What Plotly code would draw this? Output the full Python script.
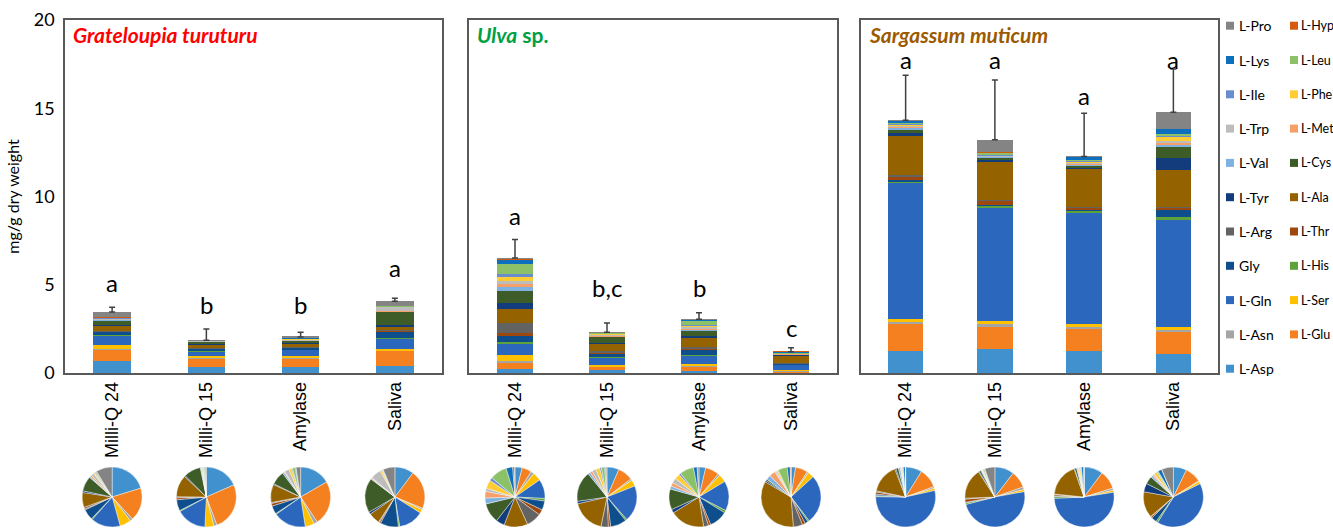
import plotly.graph_objects as go
import numpy as np

W, H = 1333, 528

categories = ["Milli-Q 24", "Milli-Q 15", "Amylase", "Saliva"]
species = ["Grateloupia turuturu", "Ulva sp.", "Sargassum muticum"]

# mg/g dry weight; 12 bars = [G. turuturu x4, Ulva x4, S. muticum x4]
asp = [0.70, 0.34, 0.34, 0.42, 0.25, 0.15, 0.11, 0.03, 1.27, 1.38, 1.25, 1.06]
glu = [0.62, 0.48, 0.49, 0.85, 0.34, 0.19, 0.23, 0.08, 1.51, 1.21, 1.23, 1.30]
asn = [0.05, 0.03, 0.04, 0.03, 0.11, 0.02, 0.03, 0.01, 0.13, 0.19, 0.15, 0.06]
ser = [0.21, 0.09, 0.10, 0.08, 0.30, 0.08, 0.13, 0.04, 0.17, 0.15, 0.13, 0.19]
gln = [0.55, 0.30, 0.36, 0.55, 0.68, 0.45, 0.49, 0.32, 7.69, 6.46, 6.35, 6.08]
his = [0.02, 0.01, 0.01, 0.03, 0.09, 0.02, 0.04, 0.01, 0.08, 0.11, 0.11, 0.15]
gly = [0.20, 0.11, 0.09, 0.40, 0.32, 0.20, 0.30, 0.02, 0.11, 0.04, 0.04, 0.43]
thr = [0.02, 0.02, 0.03, 0.03, 0.19, 0.03, 0.04, 0.02, 0.17, 0.23, 0.09, 0.11]
arg = [0.03, 0.01, 0.01, 0.02, 0.53, 0.09, 0.08, 0.06, 0.08, 0.06, 0.04, 0.04]
ala = [0.28, 0.22, 0.20, 0.25, 0.83, 0.42, 0.57, 0.42, 2.27, 2.17, 2.20, 2.08]
tyr = [0.03, 0.01, 0.01, 0.05, 0.30, 0.03, 0.06, 0.01, 0.09, 0.06, 0.04, 0.68]
cys = [0.28, 0.17, 0.15, 0.76, 0.70, 0.38, 0.34, 0.01, 0.19, 0.13, 0.13, 0.62]
val = [0.02, 0.01, 0.02, 0.02, 0.21, 0.03, 0.05, 0.03, 0.15, 0.06, 0.06, 0.15]
met = [0.03, 0.005, 0.01, 0.02, 0.23, 0.03, 0.06, 0.04, 0.04, 0.03, 0.06, 0.11]
trp = [0.05, 0.01, 0.05, 0.23, 0.11, 0.05, 0.08, 0.01, 0.06, 0.04, 0.04, 0.09]
phe = [0.02, 0.005, 0.03, 0.04, 0.30, 0.05, 0.09, 0.01, 0.06, 0.03, 0.09, 0.23]
ile = [0.01, 0.005, 0.01, 0.01, 0.11, 0.02, 0.03, 0.005, 0.04, 0.03, 0.04, 0.06]
leu = [0.02, 0.01, 0.03, 0.01, 0.60, 0.04, 0.23, 0.06, 0.04, 0.09, 0.04, 0.09]
lys = [0.01, 0.005, 0.01, 0.01, 0.23, 0.01, 0.06, 0.02, 0.15, 0.02, 0.15, 0.30]
hyp = [0.01, 0.0, 0.0, 0.0, 0.06, 0.01, 0.01, 0.005, 0.01, 0.01, 0.01, 0.02]
pro = [0.30, 0.01, 0.05, 0.26, 0.02, 0.01, 0.02, 0.0, 0.01, 0.72, 0.01, 0.93]

# standard deviation (upper error bar) per bar
sd = [0.26, 0.64, 0.27, 0.17, 1.05, 0.52, 0.36, 0.22, 2.55, 3.38, 2.45, 2.45]

# significance letters and their heights
letters = ["a", "b", "b", "a", "a", "b,c", "b", "c", "a", "a", "a", "a"]
letter_y = [5.1, 3.9, 3.9, 5.95, 8.9, 4.85, 4.85, 2.55, 17.75, 17.75, 15.75, 17.75]

amino_names = ["L-Asp", "L-Glu", "L-Asn", "L-Ser", "L-Gln", "L-His", "Gly", "L-Thr",
               "L-Arg", "L-Ala", "L-Tyr", "L-Cys", "L-Val", "L-Met", "L-Trp", "L-Phe",
               "L-Ile", "L-Leu", "L-Lys", "L-Hyp", "L-Pro"]
amino_values = [asp, glu, asn, ser, gln, his, gly, thr, arg, ala, tyr, cys, val, met,
                trp, phe, ile, leu, lys, hyp, pro]
amino_colors = ["#4191CF", "#F5801F", "#A5A5A5", "#FFC000", "#2A67BD", "#5FA23A",
                "#0E4E8C", "#9E480E", "#636363", "#946300", "#123C7C", "#3D5C27",
                "#7FB2E0", "#F5A06A", "#BDBDBD", "#FFCD33", "#698ED0", "#8CC168",
                "#0E6FBF", "#D55B0E", "#848484"]

title_colors = ["#FF0000", "#00A044", "#9C5A00"]
title_texts = ["<b><i>Grateloupia turuturu</i></b>", "<b><i>Ulva</i> sp.</b>",
               "<b><i>Sargassum muticum</i></b>"]

# layout geometry (pixels)
x_domains_px = [(65, 442), (469, 837), (861, 1218)]
y_domain_px = (20, 373)
legend_col_square_px = [1226, 1290]
legend_col_text_px = [1238, 1300]
legend_font_px = [14, 12.5]
legend_top_px, legend_step_px = 25.7, 34.3

vals = np.array(amino_values)  # 21 x 12
totals = vals.sum(axis=0)

fig = go.Figure()
axis_ids = ["", "2", "3"]

for p in range(3):
    xa = "x" + axis_ids[p]
    ya = "y" + axis_ids[p]
    sl = slice(4 * p, 4 * p + 4)
    for k, name in enumerate(amino_names):
        fig.add_trace(go.Bar(
            x=categories, y=vals[k, sl], name=name,
            marker=dict(color=amino_colors[k], line=dict(width=0)),
            xaxis=xa, yaxis=ya, legendgroup=name, showlegend=False,
            hoverinfo="name+y",
        ))
    fig.add_trace(go.Scatter(
        x=categories, y=totals[sl], mode="markers",
        marker=dict(size=1, color="rgba(0,0,0,0)"),
        error_y=dict(type="data", array=sd[sl], arrayminus=[0] * 4, symmetric=False,
                     color="#404040", thickness=1.5, width=3),
        xaxis=xa, yaxis=ya, showlegend=False, hoverinfo="skip",
    ))
    # pies under each bar
    d0, d1 = x_domains_px[p]
    for i in range(4):
        cx = d0 + (i + 0.5) * (d1 - d0) / 4
        fig.add_trace(go.Pie(
            values=vals[:, 4 * p + i], labels=amino_names,
            marker=dict(colors=amino_colors, line=dict(color="white", width=0.4)),
            sort=False, direction="clockwise", rotation=0,
            textinfo="none", showlegend=False, hoverinfo="label+percent",
            domain=dict(x=[(cx - 30) / W, (cx + 30) / W], y=[1 / H, 61 / H]),
        ))
    for i in range(4):
        fig.add_annotation(
            x=categories[i], y=letter_y[4 * p + i], xref=xa, yref=ya,
            text=letters[4 * p + i], showarrow=False,
            font=dict(size=24, color="black", family="Lato, Arial"),
            yanchor="middle",
        )
    fig.add_annotation(
        x=0, y=1, xref=xa + " domain", yref=ya + " domain",
        xanchor="left", yanchor="top", xshift=6, yshift=0,
        text=title_texts[p], showarrow=False,
        font=dict(size=21, color=title_colors[p], family="Lato, Arial"),
    )

# two-column legend (top to bottom, left to right), built from the series lists
legend_order = list(range(len(amino_names)))[::-1]
for n, k in enumerate(legend_order):
    col, row = n % 2, n // 2
    yc = legend_top_px + row * legend_step_px
    sx = legend_col_square_px[col]
    fig.add_shape(type="rect", xref="paper", yref="paper",
                  x0=sx / W, x1=(sx + 8) / W,
                  y0=1 - (yc + 4) / H, y1=1 - (yc - 4) / H,
                  fillcolor=amino_colors[k], line=dict(width=0))
    fig.add_annotation(x=legend_col_text_px[col] / W, y=1 - yc / H,
                       xref="paper", yref="paper", xanchor="left", yanchor="middle",
                       text=amino_names[k], showarrow=False, borderpad=0,
                       font=dict(size=legend_font_px[col], color="black",
                                 family="Lato, Arial"))

ydom = [1 - y_domain_px[1] / H, 1 - y_domain_px[0] / H]
layout_axes = {}
for p in range(3):
    d0, d1 = x_domains_px[p]
    layout_axes["xaxis" + axis_ids[p]] = dict(
        domain=[d0 / W, d1 / W], anchor="y" + axis_ids[p],
        showline=True, mirror=True, linecolor="#595959", linewidth=1.5,
        ticks="", tickangle=-90, showgrid=False, automargin=False,
        tickfont=dict(size=18, family="Liberation Sans, Arial", color="black"),
        categoryorder="array", categoryarray=categories,
    )
    layout_axes["yaxis" + axis_ids[p]] = dict(
        domain=ydom, anchor="x" + axis_ids[p], range=[0, 20],
        tickvals=[0, 5, 10, 15, 20], showticklabels=(p == 0),
        showline=True, mirror=True, linecolor="#595959", linewidth=1.5,
        ticks="", showgrid=False, zeroline=False, automargin=False,
        tickfont=dict(size=18, family="Lato, Arial", color="black"),
        ticklabelstandoff=5,
        title=dict(text="mg/g dry weight" if p == 0 else "",
                   font=dict(size=16, family="Lato, Arial", color="black"),
                   standoff=10),
    )

fig.update_layout(
    width=W, height=H,
    margin=dict(l=0, r=0, t=0, b=0),
    paper_bgcolor="white", plot_bgcolor="white",
    barmode="stack", bargap=0.6, showlegend=False,
    font=dict(family="Lato, Arial", color="black"),
    **layout_axes,
)

fig.write_html("out.html", config={"displayModeBar": False},
               post_script="document.body.style.margin='0';document.body.style.overflow='hidden';")
